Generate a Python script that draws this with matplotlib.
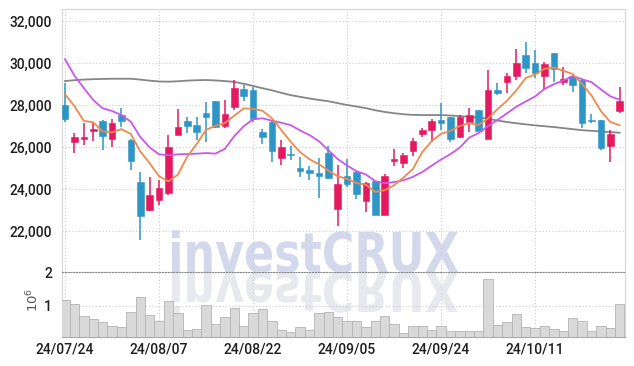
import numpy as np
import matplotlib
matplotlib.use("Agg")
import matplotlib.pyplot as plt
from matplotlib.textpath import TextPath
from matplotlib.patches import PathPatch
from matplotlib.font_manager import FontProperties
from matplotlib.transforms import Affine2D, IdentityTransform
from matplotlib.ticker import FuncFormatter, FixedLocator

# ---- data ----
tick_pos = [0, 10, 20, 30, 40, 50]
tick_labels = ["24/07/24", "24/08/07", "24/08/22", "24/09/05", "24/09/24", "24/10/11"]

opens = [28000, 26250, 26380, 26780, 27240, 26400, 27510, 26330, 24330, 23000,
         23490, 23830, 26590, 27240, 27030, 27640, 28190, 27000, 27920, 28750,
         28710, 26710, 27190, 25490, 25680, 25020, 24900, 24760, 25700, 23030,
         24620, 24810, 23430, 24360, 22780, 25320, 25220, 25810, 26600, 26810,
         27290, 27410, 26490, 27210, 27760, 26400, 28710, 29110, 29400, 30380,
         29990, 29400, 30460, 29100, 29380, 29190, 27290, 27290, 26060, 27710]
highs = [29050, 26680, 27130, 27180, 27290, 27330, 27840, 26400, 24800, 24560,
         24430, 26570, 27800, 27410, 27410, 28140, 28200, 28240, 29190, 28950,
         28870, 26840, 27290, 26330, 26050, 25540, 25100, 25460, 26050, 25140,
         25410, 24860, 24350, 24400, 24700, 25900, 25700, 26410, 26920, 27320,
         28110, 27420, 27520, 27840, 27780, 29670, 29030, 29540, 30650, 30990,
         30600, 30060, 30470, 29830, 29400, 29200, 27560, 27300, 26810, 28870]
lows = [27190, 25700, 26100, 26300, 25860, 25990, 26970, 24900, 21560, 22970,
        23240, 23700, 26590, 26650, 26330, 26250, 26890, 26890, 27760, 28190,
        27200, 26130, 25300, 25140, 25380, 24590, 24430, 23560, 24460, 22240,
        24110, 23510, 22920, 22760, 22760, 25100, 24990, 25570, 26490, 26250,
        26810, 26250, 26440, 26730, 26760, 26390, 28460, 28560, 29190, 29540,
        29270, 28710, 29110, 28950, 28640, 26890, 27130, 25860, 25300, 27600]
closes = [27330, 26460, 26490, 26870, 26540, 27130, 27220, 25350, 22730, 23710,
          24030, 25990, 26940, 27020, 26710, 27410, 26970, 27570, 28790, 28440,
          27330, 26490, 25830, 25990, 25620, 24870, 24780, 24640, 24510, 24240,
          24240, 23780, 24270, 22780, 24620, 25440, 25620, 26290, 26810, 27240,
          27160, 26370, 27410, 27520, 26780, 28710, 28590, 29380, 29990, 29750,
          29540, 29950, 29700, 29220, 28970, 27160, 27240, 25970, 26620, 28190]
volume = [1.18, 1.05, 0.71, 0.62, 0.52, 0.41, 0.38, 0.82, 1.27, 0.74,
          0.56, 1.15, 0.79, 0.29, 0.31, 1.03, 0.47, 0.68, 0.94, 0.41,
          0.78, 0.91, 0.55, 0.29, 0.23, 0.37, 0.29, 0.78, 0.81, 0.68,
          0.55, 0.55, 0.37, 0.55, 0.70, 0.46, 0.20, 0.41, 0.41, 0.29,
          0.41, 0.26, 0.26, 0.26, 0.26, 1.80, 0.44, 0.53, 0.77, 0.38,
          0.34, 0.41, 0.32, 0.26, 0.65, 0.56, 0.26, 0.41, 0.35, 1.06]
ma5 = [28510, 27950, 27240, 27180, 26738, 26698, 26850, 26622, 25794, 25228,
       24608, 24362, 24680, 25538, 26138, 26814, 27010, 27136, 27490, 27836,
       27820, 27724, 27376, 26816, 26252, 25760, 25418, 25180, 24884, 24608,
       24482, 24282, 24208, 23862, 23938, 24178, 24546, 24950, 25756, 26280,
       26624, 26774, 26998, 27140, 27048, 27358, 27802, 28196, 28690, 29284,
       29450, 29722, 29786, 29632, 29476, 29000, 28458, 27712, 27192, 27036]
ma10 = [30180, 29400, 28810, 28240, 27843, 27714, 27524, 27206, 26480, 25983,
        25653, 25606, 25651, 25666, 25683, 25711, 25686, 25908, 26514, 26987,
        27317, 27367, 27256, 27153, 27044, 26790, 26571, 26278, 25850, 25430,
        25121, 24850, 24694, 24373, 24273, 24330, 24414, 24579, 24809, 25109,
        25401, 25660, 25974, 26448, 26664, 26991, 27288, 27597, 27915, 28166,
        28404, 28762, 28991, 29161, 29380, 29225, 29090, 28749, 28412, 28256]
ma_long = [29140, 29180, 29210, 29230, 29240, 29250, 29250, 29250, 29210, 29160,
           29120, 29110, 29130, 29160, 29180, 29190, 29170, 29140, 29100, 29010,
           28910, 28800, 28700, 28580, 28470, 28390, 28310, 28240, 28180, 28090,
           28000, 27930, 27850, 27750, 27670, 27610, 27560, 27530, 27520, 27520,
           27520, 27500, 27470, 27440, 27410, 27340, 27260, 27190, 27130, 27080,
           27030, 26990, 26950, 26900, 26850, 26800, 26770, 26740, 26710, 26680]

UP = "#e5195f"
DOWN = "#2e95c7"
GRID = "#c9c9dc"
TXT = "#1e1e1e"
tick_font = ["Roboto", "DejaVu Sans"]
tick_size = 10
tick_weight = "medium"

W, H = 634, 366
fig = plt.figure(figsize=(W / 100, H / 100), dpi=100)
fig.patch.set_facecolor("white")
ax = fig.add_axes([62 / W, 94 / H, 563 / W, 263 / H])
axv = fig.add_axes([62 / W, 29 / H, 563 / W, 65 / H], sharex=ax)
axv.patch.set_facecolor("none")

x = np.arange(len(closes))
o = np.array(opens, float)
c = np.array(closes, float)
colors = [UP if cc >= oo else DOWN for oo, cc in zip(o, c)]

# watermark and its reflection, drawn behind the candles
fp = FontProperties(family="DejaVu Sans", weight="bold")
tp = TextPath((0, 0), "investCRUX", size=100, prop=fp)
bb = tp.get_extents()
sx = 286 / bb.width
sy = 40 / 72.9
base_y = H - 272
wm = Affine2D().translate(-bb.x0, 0).scale(sx, sy).translate(172, base_y)
wr = Affine2D().translate(-bb.x0, 0).scale(sx, -sy).translate(172, base_y)
ax.add_patch(PathPatch(wm.transform_path(tp), facecolor="#d3d8ea", edgecolor="none",
                       transform=IdentityTransform(), clip_on=False, zorder=0.5))
ax.add_patch(PathPatch(wr.transform_path(tp), facecolor="#e8e8ef", edgecolor="none",
                       transform=IdentityTransform(), clip_on=False, zorder=0.5))

# candles
ax.vlines(x, lows, highs, colors=colors, linewidth=1.1, zorder=3)
body_h = np.maximum(np.abs(c - o), 40)
ax.bar(x, body_h, bottom=np.minimum(o, c), width=0.7, color=colors,
       edgecolor=colors, linewidth=0.4, zorder=4)

# moving averages
ax.plot(x, ma_long, color="#858585", linewidth=1.3, zorder=2)
ax.plot(x, ma10, color="#cc55ec", linewidth=1.3, zorder=5)
ax.plot(x, ma5, color="#ef8a4d", linewidth=1.3, zorder=5)

ax.set_xlim(-0.32, 59.57)
ax.set_ylim(20048, 32571)
ax.yaxis.set_major_locator(FixedLocator([22000, 24000, 26000, 28000, 30000, 32000]))
ax.yaxis.set_major_formatter(FuncFormatter(lambda v, p: f"{int(v):,}"))
ax.xaxis.set_major_locator(FixedLocator(tick_pos))
ax.grid(True, color=GRID, linestyle=(0, (1, 2)), linewidth=0.8)
ax.set_axisbelow(True)
ax.tick_params(axis="x", labelbottom=False, length=0)
ax.tick_params(axis="y", length=0, pad=7, labelsize=tick_size, labelcolor=TXT)
for lab in ax.get_yticklabels():
    lab.set_family(tick_font)
    lab.set_weight(tick_weight)
for side in ["left", "top", "right"]:
    ax.spines[side].set_color("#d6d6d6")
ax.spines["bottom"].set_visible(False)

# volume
axv.bar(x, volume, width=1.0, color="#d9d9d9", edgecolor="#b4b4b4", linewidth=0.6, zorder=3)
axv.set_ylim(0.088, 2.0)
axv.yaxis.set_major_locator(FixedLocator([1, 2]))
axv.yaxis.set_major_formatter(FuncFormatter(lambda v, p: f"{int(v)}"))
axv.set_xticks(tick_pos)
axv.set_xticklabels(tick_labels)
axv.grid(True, color=GRID, linestyle=(0, (1, 2)), linewidth=0.8)
axv.set_axisbelow(True)
axv.tick_params(axis="both", length=0, labelsize=tick_size, labelcolor=TXT)
axv.tick_params(axis="y", pad=7)
axv.tick_params(axis="x", pad=4)
for lab in axv.get_yticklabels() + axv.get_xticklabels():
    lab.set_family(tick_font)
    lab.set_weight(tick_weight)
axv.spines["top"].set_color("#8c8c8c")
axv.spines["top"].set_linestyle((0, (1, 1.5)))
axv.spines["left"].set_color("#d6d6d6")
axv.spines["right"].set_color("#d6d6d6")
axv.spines["bottom"].set_color("#a8a8a8")
fig.text(33 / W, (H - 300) / H, r"$10^6$", rotation=90, ha="center", va="center",
         fontsize=9.5, color="#555555")

fig.savefig("out.png", dpi=100)
